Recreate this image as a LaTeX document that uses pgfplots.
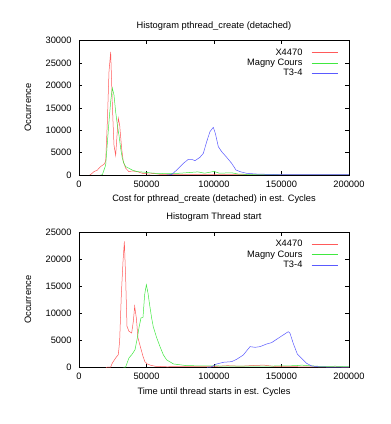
\documentclass[border=0pt]{standalone}
\usepackage{pgfplots}
\usepackage{pgfplotstable}
\pgfplotsset{compat=1.18}
\usepackage{fontspec}
\setmainfont{Liberation Sans}

\definecolor{gpred}{HTML}{FF5A5A}
\definecolor{gpgreen}{HTML}{40E840}
\definecolor{gpblue}{HTML}{5A5AFF}
\newcommand{\gpfont}{\fontsize{9.3}{10}\selectfont}

% top: pthread_create (detached)
\pgfplotstableread{
x y
8000 0
8640 100
11100 750
13600 1100
16000 1900
18500 2400
19750 3000
21000 11900
22200 23000
23460 27500
24700 15600
25900 6700
27160 4400
28200 9000
29100 12700
30100 11200
31600 5900
32800 3000
34600 1500
37000 750
39500 900
43200 750
46900 370
49400 300
52000 200
55000 350
60000 150
70000 100
100000 80
130000 50
200000 30
}\createX
\pgfplotstableread{
x y
16000 0
17300 50
19750 2200
22200 11900
23460 16400
24700 19400
25900 17900
27160 14100
28400 11200
29600 8900
30900 5900
32100 3700
33300 2600
34600 1860
37000 1500
39500 1100
43200 750
49400 600
55000 400
65000 300
75000 400
88000 700
93000 400
100000 800
104000 400
113000 500
118000 200
130000 100
150000 50
200000 30
}\createM
\pgfplotstableread{
x y
65000 0
68650 100
72400 1117
77300 2600
81000 3500
83450 3500
85900 3200
89600 3950
92100 4840
94600 7450
97000 9680
99500 10650
101000 9300
103200 6330
105700 5200
109400 3950
113100 2600
116300 1117
119300 750
124200 370
131600 220
145000 100
170000 60
185000 100
200000 60
}\createT

% bottom: thread start
\pgfplotstableread{
x y
20000 0
23450 50
24700 800
27160 1730
29100 2350
30100 4800
31360 13450
32600 19600
33600 23300
34560 16500
35550 7600
37000 6670
39000 6360
40250 8500
41230 11300
42470 9140
43700 5430
45700 3580
47400 2040
48900 990
50600 620
53100 370
56800 185
65000 100
100000 150
110000 300
120000 200
130000 350
137000 400
145000 150
170000 80
200000 50
}\startX
\pgfplotstableread{
x y
33000 0
34560 50
37000 1730
39500 2470
41500 3270
43200 5430
44400 7280
45900 9140
47400 9260
48640 13460
49900 15300
51100 13760
52300 11600
53800 9140
55000 7530
57500 5500
60000 3830
62500 2300
65000 1360
70000 620
80000 300
100000 250
120000 200
150000 250
160000 300
165000 400
170000 300
180000 150
190000 200
200000 100
}\startM
\pgfplotstableread{
x y
95000 0
97800 50
102000 617
106900 926
113100 1050
116800 1480
121700 2280
126700 3830
130400 3700
134100 3830
139000 4320
142700 4570
146400 5190
151300 5990
155000 6600
156300 6300
158700 4440
161700 2470
164900 1670
168600 740
172300 250
178500 60
200000 40
}\startT

% line samples in the legend, drawn in each plot's own colour
\pgfplotsset{legend image code/.code={\draw[#1] (0pt,0pt) -- (26pt,0pt);}}

\pgfplotsset{
  gp/.style={
    scale only axis, width=270pt,
    anchor=south west,
    xmin=0, xmax=200000, ymin=0,
    xtick={0,50000,100000,150000,200000},
    scaled ticks=false,
    tick align=inside, major tick length=3.5pt,
    tick style={black, line width=0.4pt},
    axis line style={black, line width=0.5pt},
    /pgf/number format/fixed,
    /pgf/number format/precision=0,
    /pgf/number format/assume math mode=true,
    /pgf/number format/set thousands separator={},
    ticklabel style={font=\gpfont},
    xticklabel style={yshift=-2.5pt},
    yticklabel style={xshift=-4pt},
    every axis x label/.style={at={(axis description cs:0.5,-0.181)}, anchor=center, font=\gpfont},
    every axis y label/.style={at={(axis description cs:-0.189,0.5)}, rotate=90, anchor=center, font=\gpfont},
    every axis title/.style={at={(axis description cs:0.5,1.11)}, anchor=center, font=\gpfont},
    legend plot pos=right,
    legend cell align=right,
    legend style={draw=none, fill=none, inner sep=0pt, outer sep=0pt,
      at={(axis description cs:0.959,0.955)}, anchor=north east,
      font=\gpfont, row sep=-1.8pt,
      column sep=7pt},
    every axis plot/.append style={line width=0.5pt},
  }
}

\begin{document}
\begin{tikzpicture}
\path[use as bounding box] (0,0) rectangle (391pt,424pt);

\begin{axis}[gp, at={(79pt,249pt)}, height=134.3pt,
  ymax=30000, ytick={0,5000,10000,15000,20000,25000,30000},
  title={Histogram pthread\_create (detached)},
  xlabel={Cost for pthread\_create (detached) in est. Cycles},
  ylabel={Occurrence}]
\addplot[gpred, no marks] table {\createX};
\addplot[gpgreen, no marks] table {\createM};
\addplot[gpblue, no marks] table {\createT};
\legend{X4470,Magny Cours,T3-4}
\end{axis}

\begin{axis}[gp, at={(79pt,56.7pt)}, height=135pt,
  ymax=25000, ytick={0,5000,10000,15000,20000,25000},
  title={Histogram Thread start},
  xlabel={Time until thread starts in est. Cycles},
  ylabel={Occurrence}]
\addplot[gpred, no marks] table {\startX};
\addplot[gpgreen, no marks] table {\startM};
\addplot[gpblue, no marks] table {\startT};
\legend{X4470,Magny Cours,T3-4}
\end{axis}
\end{tikzpicture}
\end{document}
